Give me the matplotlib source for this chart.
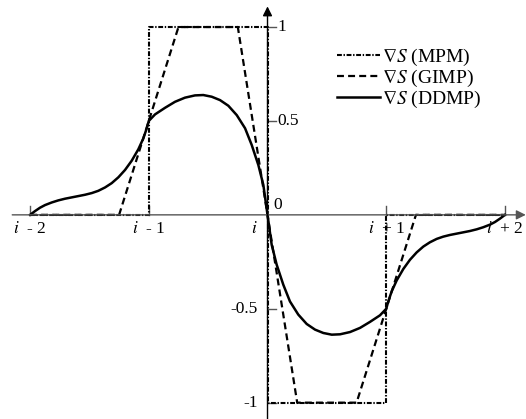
import matplotlib
matplotlib.use("Agg")
import matplotlib.pyplot as plt

plt.rcParams['font.family'] = ['Liberation Serif', 'DejaVu Serif']
plt.rcParams['mathtext.fontset'] = 'stix'
plt.rcParams['lines.scale_dashes'] = False

# MPM gradient (step shape)
mpm_x = [-2, -1, -1, 0, 0, 1, 1, 2]
mpm_y = [0, 0, 1, 1, -1, -1, 0, 0]

# GIMP gradient (trapezoids)
gimp_x = [-2, -1.25, -0.75, -0.25, 0.25, 0.75, 1.25, 2]
gimp_y = [0, 0, 1, 1, -1, -1, 0, 0]

# DDMP gradient
ddmp_x = [-2.0, -1.958, -1.916, -1.874, -1.817, -1.762, -1.705, -1.649, -1.593,
          -1.537, -1.480, -1.425, -1.368, -1.312, -1.256, -1.200, -1.144, -1.088,
          -1.046, -1.017, -1.0, -0.947, -0.863, -0.779, -0.695, -0.611, -0.541,
          -0.470, -0.400, -0.330, -0.259, -0.189, -0.133, -0.077, -0.035, 0.0,
          0.035, 0.077, 0.133, 0.189, 0.259, 0.330, 0.400, 0.470, 0.541, 0.611,
          0.695, 0.779, 0.863, 0.947, 1.0, 1.017, 1.046, 1.088, 1.144, 1.200,
          1.256, 1.312, 1.368, 1.425, 1.480, 1.537, 1.593, 1.649, 1.705, 1.762,
          1.817, 1.874, 1.916, 1.958, 2.0]
ddmp_y = [0.0, 0.020, 0.038, 0.052, 0.066, 0.077, 0.086, 0.093, 0.100,
          0.107, 0.116, 0.128, 0.146, 0.169, 0.200, 0.239, 0.288, 0.349,
          0.407, 0.461, 0.500, 0.535, 0.570, 0.602, 0.624, 0.636, 0.638,
          0.629, 0.611, 0.581, 0.531, 0.461, 0.372, 0.265, 0.159, 0.0,
          -0.159, -0.265, -0.372, -0.461, -0.531, -0.581, -0.611, -0.629, -0.638, -0.636,
          -0.624, -0.602, -0.570, -0.535, -0.500, -0.461, -0.407, -0.349, -0.288, -0.239,
          -0.200, -0.169, -0.146, -0.128, -0.116, -0.107, -0.100, -0.093, -0.086, -0.077,
          -0.066, -0.052, -0.038, -0.020, 0.0]

xtick_pos = [-2, -1, 0, 1, 2]
xtick_labels = [r'$i$  - 2', r'$i$  - 1', r'$i$', r'$i$  + 1', r'$i$  + 2']
ytick_pos = [1, 0.5, -0.5, -1]
ytick_labels = ['1', '0.5', '-0.5', '-1']

fig = plt.figure(figsize=(5.26, 4.19), dpi=100)
ax = fig.add_axes([0, 0, 1, 1])
ax.set_xlim(-2.253, 2.177)
ax.set_ylim(-1.087, 1.144)
ax.axis('off')

# axes with arrows
ax.annotate('', xy=(2.175, 0), xytext=(-2.15, 0),
            arrowprops=dict(arrowstyle='-|>', color='#555555', lw=1.0,
                            mutation_scale=14, shrinkA=0, shrinkB=0))
ax.annotate('', xy=(0, 1.11), xytext=(0, -1.087),
            arrowprops=dict(arrowstyle='-|>', color='black', lw=1.0,
                            mutation_scale=14, shrinkA=0, shrinkB=0))

# ticks
for x in [-2, -1, 1, 2]:
    ax.plot([x, x], [0, 0.045], color='#555555', lw=1.0)
for y in ytick_pos:
    ax.plot([0, 0.075], [y, y], color='#555555', lw=1.0)

fs = 12.5
for x, lab in zip(xtick_pos, xtick_labels):
    if x == 0:
        ax.text(-0.08, -0.035, lab, ha='right', va='top', fontsize=fs)
    else:
        ax.text(x, -0.035, lab, ha='center', va='top', fontsize=fs)
for y, lab in zip(ytick_pos, ytick_labels):
    if y > 0:
        ax.text(0.08, y, lab, ha='left', va='center', fontsize=fs)
    else:
        ax.text(-0.08, y, lab, ha='right', va='center', fontsize=fs)
ax.text(0.05, 0.01, '0', ha='left', va='bottom', fontsize=fs)

ax.plot(mpm_x, mpm_y, color='black', lw=1.5, dashes=(3.5, 1.2, 1.0, 1.2),
        label=r'$\nabla S$ (MPM)')
ax.plot(gimp_x, gimp_y, color='black', lw=1.6, dashes=(5, 3),
        label=r'$\nabla S$ (GIMP)')
ax.plot(ddmp_x, ddmp_y, color='black', lw=1.8, label=r'$\nabla S$ (DDMP)')

fig.legend(loc='upper left', bbox_to_anchor=(0.6407, 0.888), frameon=False,
           fontsize=14, handlelength=2.2, handletextpad=0.1, labelspacing=0.0,
           borderpad=0, borderaxespad=0)

fig.savefig('out.png', dpi=100)
